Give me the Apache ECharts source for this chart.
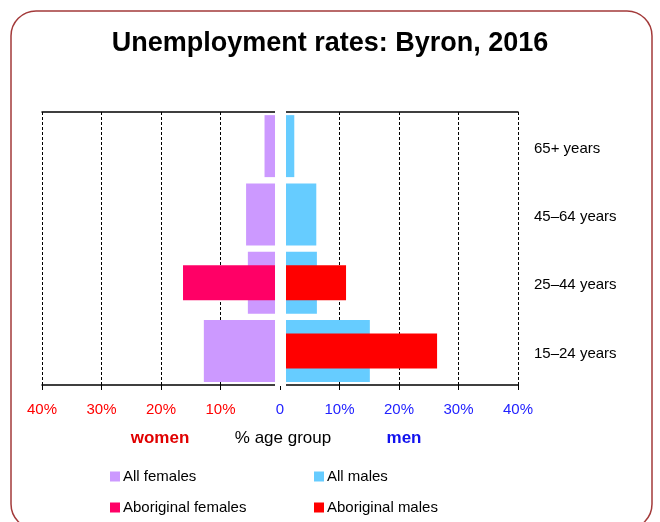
<!DOCTYPE html>
<html>
<head>
<meta charset="utf-8">
<script src="https://cdn.jsdelivr.net/npm/echarts@6/dist/echarts.min.js"></script>
<style>
  html, body { margin: 0; padding: 0; background: #fff; }
  #chart { width: 660px; height: 522px; }
</style>
</head>
<body>
<div id="chart"></div>
<script>
// age groups, bottom to top
var categories = ["15–24 years", "25–44 years", "45–64 years", "65+ years"];
// % of age group, unemployed
var allFemales = [12.8, 5.4, 5.7, 2.6];
var allMales = [15.1, 6.2, 6.1, 2.4];
var aboriginalFemales = [null, 16.3, null, null];
var aboriginalMales = [26.4, 11.1, null, null];

var FONT = "Liberation Sans, Arial, sans-serif";
var RED = "#ff0000";
var BLUE = "#2222ff";

var neg = function(arr) {
  return arr.map(function(v) { return v == null ? null : -v; });
};

var myChart = echarts.init(document.getElementById("chart"));

myChart.setOption({
  backgroundColor: "#fff",
  animation: false,
  title: {
    text: "Unemployment rates: Byron, 2016",
    left: "center",
    top: 25,
    textStyle: { fontFamily: FONT, fontSize: 27, fontWeight: "bold", color: "#000" }
  },
  graphic: [
    {
      type: "rect",
      z: -1,
      shape: { x: 11, y: 11, width: 641, height: 518, r: 25 },
      style: { fill: "none", stroke: "#a33a3a", lineWidth: 1.5 }
    },
    {
      type: "text",
      x: 160, y: 438,
      style: { text: "women", fill: "#e00000", font: "bold 17px " + FONT, textAlign: "center", textVerticalAlign: "middle" }
    },
    {
      type: "text",
      x: 283, y: 438,
      style: { text: "% age group", fill: "#000", font: "17px " + FONT, textAlign: "center", textVerticalAlign: "middle" }
    },
    {
      type: "text",
      x: 404, y: 438,
      style: { text: "men", fill: "#1111ee", font: "bold 17px " + FONT, textAlign: "center", textVerticalAlign: "middle" }
    }
  ],
  legend: [
    {
      orient: "vertical",
      left: 110,
      top: 469,
      padding: 0,
      itemWidth: 10,
      itemHeight: 10,
      itemGap: 16,
      icon: "rect",
      data: ["All females", "Aboriginal females"],
      textStyle: { fontFamily: FONT, fontSize: 15, color: "#000", padding: [0, 0, 0, -2] }
    },
    {
      orient: "vertical",
      left: 314,
      top: 469,
      padding: 0,
      itemWidth: 10,
      itemHeight: 10,
      itemGap: 16,
      icon: "rect",
      data: ["All males", "Aboriginal males"],
      textStyle: { fontFamily: FONT, fontSize: 15, color: "#000", padding: [0, 0, 0, -2] }
    }
  ],
  grid: {
    left: 42,
    right: 142,
    top: 112,
    bottom: 137
  },
  xAxis: [
    {
      type: "value",
      min: -40,
      max: 40,
      interval: 10,
      axisLine: { show: true, lineStyle: { color: "#000", width: 1.5 } },
      axisTick: { show: true, length: 5, lineStyle: { color: "#000" } },
      splitLine: { show: true, lineStyle: { color: "#000", type: [3, 2], width: 1 } },
      axisLabel: {
        margin: 17,
        fontFamily: FONT,
        fontSize: 15,
        formatter: function(v) {
          if (v < 0) return "{r|" + (-v) + "%}";
          if (v === 0) return "{b|0}";
          return "{b|" + v + "%}";
        },
        rich: {
          r: { color: RED, fontFamily: FONT, fontSize: 15 },
          b: { color: BLUE, fontFamily: FONT, fontSize: 15 }
        }
      }
    },
    {
      type: "value",
      position: "top",
      min: -40,
      max: 40,
      interval: 10,
      axisLine: { show: true, lineStyle: { color: "#000", width: 1.5 } },
      axisTick: { show: false },
      axisLabel: { show: false },
      splitLine: { show: false }
    }
  ],
  yAxis: [
    {
      type: "category",
      data: categories,
      position: "right",
      axisLine: { show: false },
      axisTick: { show: false },
      splitLine: { show: false },
      axisLabel: {
        margin: 16,
        formatter: function(v) { return "{c|" + v + "}"; },
        rich: {
          c: { fontFamily: FONT, fontSize: 15, color: "#000", padding: [5, 0, 0, 0] }
        }
      }
    },
    {
      type: "category",
      data: categories,
      show: false
    }
  ],
  series: [
    {
      name: "All females",
      type: "bar",
      stack: "all",
      yAxisIndex: 0,
      barWidth: 62,
      itemStyle: { color: "#cc99ff" },
      data: neg(allFemales)
    },
    {
      name: "All males",
      type: "bar",
      stack: "all",
      yAxisIndex: 0,
      barWidth: 62,
      itemStyle: { color: "#66ccff" },
      data: allMales
    },
    {
      name: "Aboriginal females",
      type: "bar",
      stack: "ab",
      yAxisIndex: 1,
      barWidth: 35,
      itemStyle: { color: "#ff0066" },
      data: neg(aboriginalFemales)
    },
    {
      name: "Aboriginal males",
      type: "bar",
      stack: "ab",
      yAxisIndex: 1,
      barWidth: 35,
      itemStyle: { color: "#ff0000" },
      data: aboriginalMales
    },
    {
      // white gap between the women and men sides
      name: "gap",
      type: "line",
      yAxisIndex: 0,
      z: 10,
      silent: true,
      data: [],
      markArea: {
        silent: true,
        z: 10,
        itemStyle: { color: "#fff", borderColor: "#fff", borderWidth: 2 },
        data: [[{ xAxis: -0.67 }, { xAxis: 0.84 }]]
      }
    }
  ]
});
</script>
</body>
</html>
